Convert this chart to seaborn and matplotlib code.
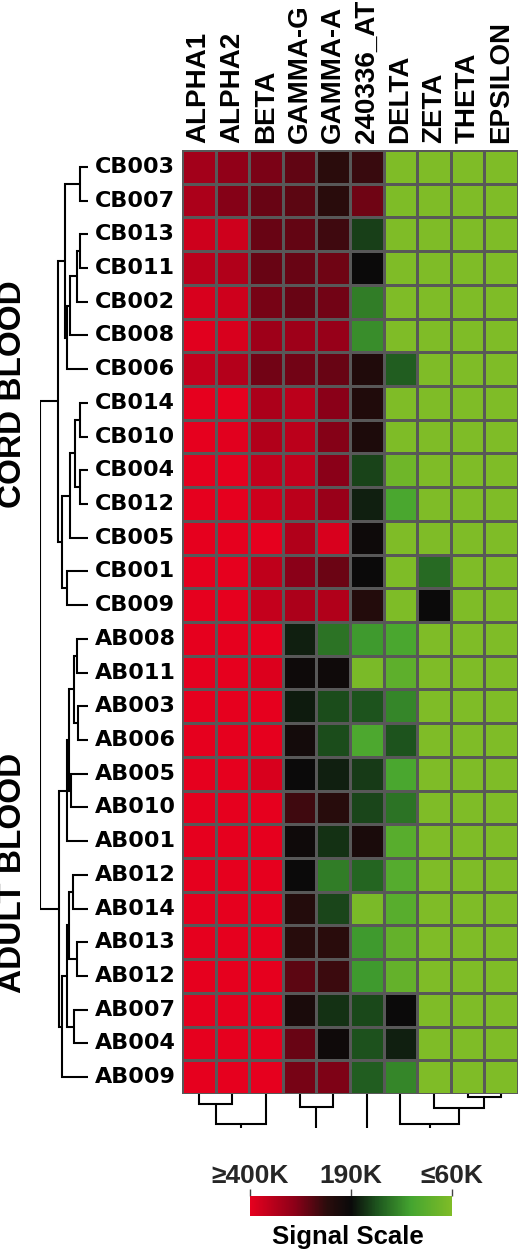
import numpy as np
import pandas as pd
import matplotlib
matplotlib.use("Agg")
import matplotlib.pyplot as plt
import seaborn as sns
from matplotlib.colors import LinearSegmentedColormap, TwoSlopeNorm

sns.set_theme(style="white")
plt.rcParams['font.family'] = ['Liberation Sans', 'DejaVu Sans']
plt.rcParams['font.weight'] = 'bold'

genes = ['ALPHA1', 'ALPHA2', 'BETA', 'GAMMA-G', 'GAMMA-A', '240336_AT',
         'DELTA', 'ZETA', 'THETA', 'EPSILON']
samples = ['CB003', 'CB007', 'CB013', 'CB011', 'CB002', 'CB008', 'CB006',
           'CB014', 'CB010', 'CB004', 'CB012', 'CB005', 'CB001', 'CB009',
           'AB008', 'AB011', 'AB003', 'AB006', 'AB005', 'AB010', 'AB001',
           'AB012', 'AB014', 'AB013', 'AB012', 'AB007', 'AB004', 'AB009']

# signal in thousands, one list per gene, in sample order
alpha1 = [330, 340, 375, 355, 385, 395, 365, 400, 400, 400, 400, 400, 400, 400,
          400, 400, 400, 400, 400, 400, 400, 400, 400, 400, 400, 400, 400, 400]
alpha2 = [312, 302, 375, 345, 375, 385, 348, 400, 395, 400, 400, 400, 400, 400,
          400, 400, 400, 400, 400, 400, 400, 400, 400, 400, 400, 400, 400, 400]
beta = [295, 283, 283, 283, 292, 325, 290, 340, 345, 365, 375, 400, 360, 365,
        400, 390, 400, 400, 385, 400, 400, 400, 400, 400, 400, 400, 400, 400]
gamma_g = [278, 274, 280, 283, 283, 325, 290, 355, 355, 365, 355, 345, 305, 340,
           180, 195, 182, 205, 190, 255, 198, 190, 228, 235, 274, 215, 283, 292]
gamma_a = [240, 238, 255, 287, 290, 318, 283, 305, 302, 305, 320, 385, 285, 345,
           140, 198, 160, 160, 180, 235, 172, 135, 163, 238, 252, 172, 198, 298]
at_240336 = [250, 287, 166, 190, 135, 125, 225, 225, 220, 164, 180, 195, 190, 228,
             118, 65, 157, 105, 168, 163, 215, 148, 65, 118, 118, 162, 158, 152]
delta = [60, 62, 60, 60, 60, 60, 152, 60, 62, 75, 108, 60, 62, 62,
         108, 90, 130, 157, 108, 140, 95, 98, 95, 85, 85, 190, 180, 130]
zeta = [60, 60, 60, 60, 60, 60, 60, 60, 60, 60, 60, 60, 145, 190,
        60, 60, 60, 60, 60, 60, 60, 60, 60, 60, 60, 60, 60, 60]
theta = [60, 60, 60, 60, 60, 60, 60, 60, 60, 60, 60, 60, 60, 60,
         60, 60, 60, 60, 60, 60, 60, 60, 60, 60, 60, 60, 60, 60]
epsilon = [60, 60, 60, 60, 60, 60, 60, 60, 60, 60, 60, 60, 60, 60,
           60, 60, 60, 60, 60, 60, 60, 60, 60, 60, 60, 60, 60, 60]

# row tree: (child a, child b, height); new nodes numbered from 28 on
row_merges = [
    (0, 1, 0.167), (2, 3, 0.167), (29, 4, 0.22), (30, 5, 0.375),
    (31, 6, 0.444), (28, 32, 0.479), (7, 8, 0.167), (9, 10, 0.167),
    (34, 35, 0.271), (36, 11, 0.375), (12, 13, 0.444), (37, 38, 0.55),
    (33, 39, 0.635), (14, 15, 0.22), (16, 17, 0.2), (41, 42, 0.29),
    (18, 19, 0.35), (43, 44, 0.396), (45, 20, 0.444), (21, 22, 0.32),
    (23, 24, 0.22), (47, 48, 0.396), (25, 26, 0.29), (49, 50, 0.4375),
    (51, 27, 0.55), (46, 52, 0.6), (40, 53, 1.0),
]
# column tree, cut at height 1.0; new nodes numbered from 10 on
col_merges = [(0, 1, 0.3), (10, 2, 0.88), (3, 4, 0.39),
              (8, 9, 0.09), (7, 13, 0.42), (6, 14, 0.88)]
col_roots = [11, 12, 5, 15]

df = pd.DataFrame({'ALPHA1': alpha1, 'ALPHA2': alpha2, 'BETA': beta,
                   'GAMMA-G': gamma_g, 'GAMMA-A': gamma_a,
                   '240336_AT': at_240336, 'DELTA': delta, 'ZETA': zeta,
                   'THETA': theta, 'EPSILON': epsilon})[genes]

cmap = LinearSegmentedColormap.from_list('signal', [
    (0.0, '#7fbc27'), (0.2, '#45a530'), (0.36, '#1f5a1f'), (0.5, '#0a0a0a'),
    (0.62, '#2a0c0c'), (0.78, '#8c0018'), (1.0, '#e6001e')])
norm = TwoSlopeNorm(vmin=60, vcenter=190, vmax=400)

W, H = 520, 1251
fig = plt.figure(figsize=(W / 100, H / 100), dpi=100)


def px_axes(left, top, right, bottom):
    return fig.add_axes([left / W, 1 - bottom / H, (right - left) / W, (bottom - top) / H])


def draw_tree(ax, merges, n_leaves, vertical, roots=None, cut=None):
    pos = {i: (i + 0.5, 0.0) for i in range(n_leaves)}
    for k, (a, b, h) in enumerate(merges):
        ca, ha = pos[a]
        cb, hb = pos[b]
        cs = [ca, ca, cb, cb]
        hs = [ha, h, h, hb]
        if vertical:
            ax.plot(hs, cs, color='black', lw=1.5, solid_joinstyle='miter')
        else:
            ax.plot(cs, hs, color='black', lw=1.5, solid_joinstyle='miter')
        pos[n_leaves + k] = ((ca + cb) / 2, h)
    if roots is not None:
        for r in roots:
            c, h = pos[r]
            ax.plot([c, c], [h, cut], color='black', lw=1.5, solid_capstyle='butt')


# heatmap
ax = px_axes(182, 150, 518, 1094)
sns.heatmap(df, ax=ax, cmap=cmap, norm=norm, cbar=False,
            linewidths=0.9, linecolor='#585858',
            xticklabels=genes, yticklabels=samples)
ax.xaxis.tick_top()
ax.tick_params(axis='x', length=0, pad=5, rotation=90)
ax.tick_params(axis='y', length=0, pad=62.6, rotation=0)
for t in ax.get_xticklabels():
    t.set_fontsize(20)
    t.set_fontweight('bold')
    t.set_color('black')
for t in ax.get_yticklabels():
    t.set_fontsize(16)
    t.set_fontweight('bold')
    t.set_fontfamily(['DejaVu Sans'])
    t.set_horizontalalignment('left')
    t.set_color('black')
ax.set_xlabel('')
ax.set_ylabel('')

# row dendrogram
axr = px_axes(40, 150, 88, 1094)
draw_tree(axr, row_merges, len(samples), vertical=True)
axr.set_xlim(1.0, 0.0)
axr.set_ylim(len(samples), 0)
axr.axis('off')

# column dendrogram
axc = px_axes(182, 1094, 518, 1128)
draw_tree(axc, col_merges, len(genes), vertical=False, roots=col_roots, cut=1.0)
axc.set_xlim(0, len(genes))
axc.set_ylim(1.0, 0.0)
axc.axis('off')

# group labels
fig.text(13 / W, 1 - 394 / H, 'CORD BLOOD', rotation=90, ha='center', va='center',
         fontsize=24, fontweight='bold', color='black')
fig.text(13 / W, 1 - 873 / H, 'ADULT BLOOD', rotation=90, ha='center', va='center',
         fontsize=24, fontweight='bold', color='black')

# colour scale
cax = px_axes(250, 1196, 452, 1216)
cbar = fig.colorbar(ax.collections[0], cax=cax, orientation='horizontal',
                    ticklocation='top')
cbar.set_ticks([400, 190, 60], labels=['\u2265400K', '190K', '\u226460K'])
cbar.minorticks_off()
cbar.ax.invert_xaxis()
cbar.outline.set_visible(False)
cbar.ax.tick_params(top=True, bottom=False, labeltop=True, labelbottom=False,
                    length=5, width=1, color='#444444', pad=1, labelsize=19)
for t in cbar.ax.get_xticklabels():
    t.set_fontweight('bold')
fig.text(348 / W, 1 - 1237 / H, 'Signal Scale', ha='center', va='center',
         fontsize=18.5, fontweight='bold', color='black')

fig.savefig('out.png', dpi=100)
